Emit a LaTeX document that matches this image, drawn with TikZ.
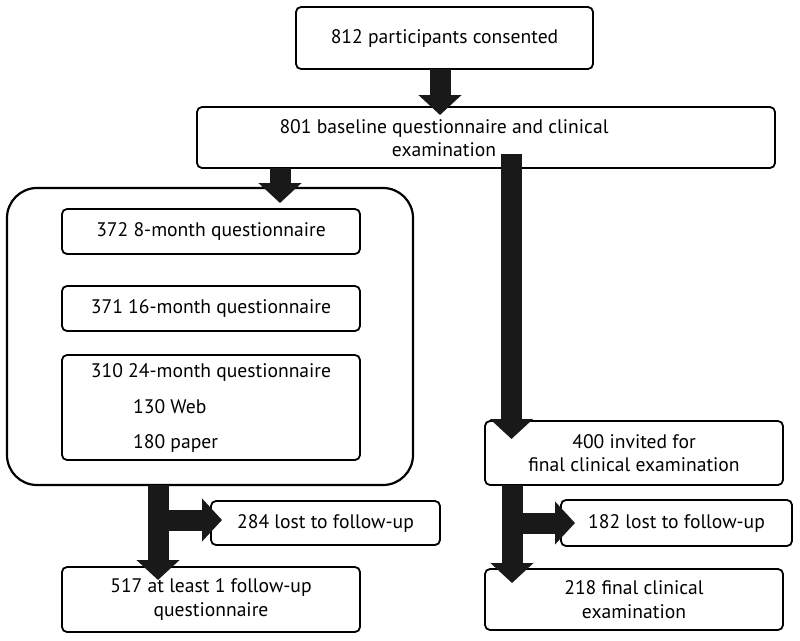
\documentclass[tikz,border=0pt]{standalone}
\usepackage{fontspec}
\setmainfont{PT Sans}
\usetikzlibrary{arrows.meta}
\tikzset{
  box/.style={draw, line width=1.8pt, rounded corners=5pt, fill=white, inner sep=0pt},
  bigbox/.style={draw, line width=2.2pt, rounded corners=30pt, inner sep=0pt},
  txt/.style={font=\fontsize{19.6}{23.5}\selectfont, align=center, inner sep=0pt},
  bigarrow/.style={line width=21pt, -{Triangle[width=42pt,length=20pt]}, black!90},
}
\begin{document}
\begin{tikzpicture}[x=1pt,y=-1pt]
\useasboundingbox (0,0) rectangle (800,640);
% boxes
\node[box, minimum width=297pt, minimum height=62pt] (b1) at (444.5,38) {};
\node[txt] at (b1) {812 participants consented};
\node[box, minimum width=578pt, minimum height=61pt] (b2) at (486,137.5) {};
\node[txt] (t2) at (444,138) {801 baseline questionnaire and clinical\\examination};
\node[bigbox, minimum width=406pt, minimum height=297pt] (big) at (210,336.5) {};
\node[box, minimum width=298pt, minimum height=45pt] (b372) at (211,231.5) {};
\node[txt] at (b372) {372 8-month questionnaire};
\node[box, minimum width=298pt, minimum height=45pt] (b371) at (211,308.5) {};
\node[txt] at (b371) {371 16-month questionnaire};
\node[box, minimum width=298pt, minimum height=105pt] (b310) at (211,407.5) {};
\node[txt] at (211,372) {310 24-month questionnaire};
\node[txt, anchor=west] at (133,407) {130 Web};
\node[txt, anchor=west] at (133,443) {180 paper};
\node[box, minimum width=229pt, minimum height=44pt] (b284) at (325.5,523) {};
\node[txt] at (b284) {284 lost to follow-up};
\node[box, minimum width=298pt, minimum height=65pt] (b517) at (211,599.5) {};
\node[txt] at (b517) {517 at least 1 follow-up\\questionnaire};
\node[box, minimum width=298pt, minimum height=64pt] (b400) at (634,453) {};
\node[txt] at (b400) {400 invited for\\final clinical examination};
\node[box, minimum width=231pt, minimum height=46pt] (b182) at (676.5,523) {};
\node[txt] at (b182) {182 lost to follow-up};
\node[box, minimum width=298pt, minimum height=61pt] (b218) at (634,599.5) {};
\node[txt] at (b218) {218 final clinical\\examination};
% connector end points
\coordinate (a1s) at (440,69);
\coordinate (a1e) at (440,115);
\coordinate (a2s) at (280,168);
\coordinate (a2e) at (280,203);
\coordinate (a3s) at (511.5,154);
\coordinate (a3e) at (511.5,439);
\coordinate (l1s) at (158,485);
\coordinate (l1e) at (158,580);
\coordinate (l2s) at (158,520);
\coordinate (l2e) at (222,520);
\coordinate (r1s) at (512,485);
\coordinate (r1e) at (512,583);
\coordinate (r2s) at (512,523);
\coordinate (r2e) at (575,523);
% arrows
\draw[bigarrow] (a1s) -- (a1e);
\draw[bigarrow] (a2s) -- (a2e);
\draw[bigarrow] (a3s) -- (a3e);
\draw[bigarrow] (l2s) -- (l2e);
\draw[bigarrow] (l1s) -- (l1e);
\draw[bigarrow] (r2s) -- (r2e);
\draw[bigarrow] (r1s) -- (r1e);
\end{tikzpicture}
\end{document}
